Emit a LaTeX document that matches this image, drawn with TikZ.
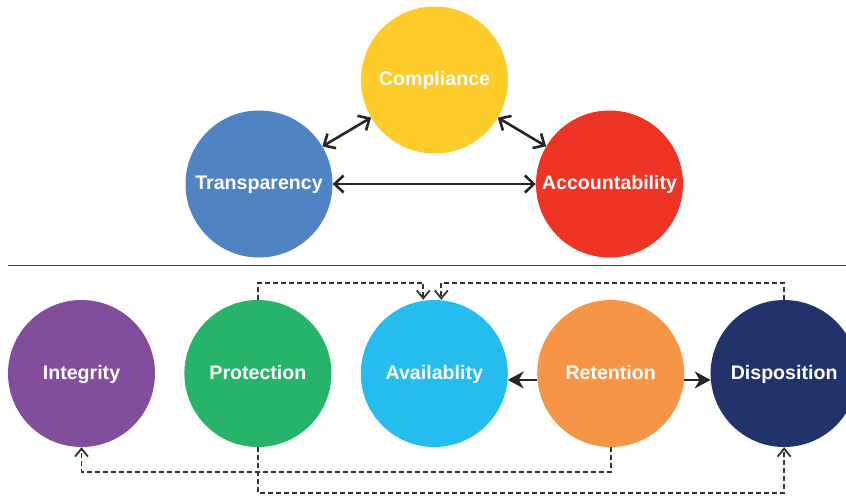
\documentclass[tikz,border=0pt]{standalone}
\usepackage{fontspec}
\setmainfont{Liberation Sans}
\usepackage{xcolor}
\usepackage{tikz}
\usetikzlibrary{arrows.meta, positioning}

\definecolor{compcol}{HTML}{FDCB2A}
\definecolor{transcol}{HTML}{5083C4}
\definecolor{acccol}{HTML}{EE3424}
\definecolor{integcol}{HTML}{834D9D}
\definecolor{protcol}{HTML}{27B36A}
\definecolor{availcol}{HTML}{25BDEF}
\definecolor{retcol}{HTML}{F79546}
\definecolor{dispcol}{HTML}{22336B}

\begin{document}
\begin{tikzpicture}[
  x=1pt, y=1pt,
  node distance=29pt,
  pillar/.style={circle, fill=#1, minimum size=147pt, inner sep=0pt, text=white, text height=14pt, text depth=3pt, font=\fontsize{19.6}{22}\selectfont\bfseries},
  link/.style={line width=2.6pt, draw=black!85, {Straight Barb[length=9pt,width=17pt]}-{Straight Barb[length=9pt,width=17pt]}},
  flow/.style={line width=2pt, draw=black!85, -{Stealth[length=16pt,width=17pt,inset=5pt]}},
  route/.style={dash pattern=on 5pt off 3pt, line width=1.8pt, draw=black!80, -{Straight Barb[length=8pt,width=13pt]}},
  divider/.style={line width=1.6pt, draw=black!75}
]
\useasboundingbox (0,0) rectangle (846,-496);

% Top Row Nodes
\node[pillar=transcol] (transparency) at (259,-184) {Transparency};
\node[pillar=compcol] (compliance) at (434.5,-80) {Compliance};
\node[pillar=acccol] (accountability) at (609.5,-184) {Accountability};

% Separator
\draw[divider] (8,-265.5) -- (846,-265.5);

% Bottom Row Nodes
\node[pillar=integcol] (integrity) at (81.5,-373.5) {Integrity};
\node[pillar=protcol, right=of integrity] (protection) {Protection};
\node[pillar=availcol, right=of protection] (availability) {Availablity};
\node[pillar=retcol, right=of availability] (retention) {Retention};
\node[pillar=dispcol, right=26pt of retention] (disposition) {Disposition};

% Top Arrows
\draw[link] (transparency) -- (compliance);
\draw[link] (compliance) -- (accountability);
\draw[link] (transparency) -- (accountability);

% Retention Arrows
\draw[flow] (retention.185) -- (availability.-5);
\draw[flow] (retention.-5) -- (disposition.185);

% Dashed Routes
\draw[route] (protection.north) -- ++(0,17) -| ([xshift=-11pt]availability.north);
\draw[route] (disposition.north) -- ++(0,17) -| ([xshift=7pt]availability.north);
\draw[route] (retention.south) -- ++(0,-25) -| (integrity.south);
\draw[route] (protection.south) -- ++(0,-46) -| (disposition.south);

\end{tikzpicture}
\end{document}
